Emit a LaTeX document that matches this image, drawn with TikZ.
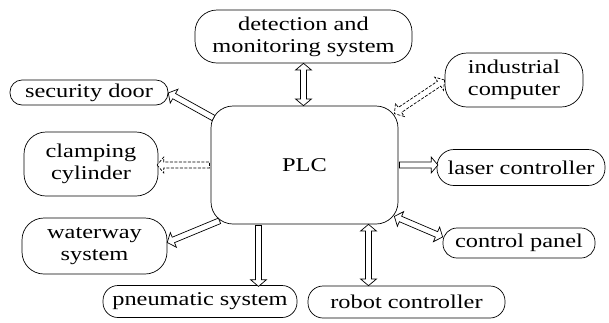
\documentclass[tikz,border=0pt]{standalone}
\usepackage{fontspec}
\setmainfont{Liberation Serif}[FakeStretch=1.25]
\usetikzlibrary{shapes.arrows,calc}
\newcommand\blkarrow[3][]{%
  \path let \p1=(#2), \p2=(#3),
    \n1={veclen(\x2-\x1,\y2-\y1)}, \n2={atan2(\y2-\y1,\x2-\x1)} in
    node[blkbase, #1, minimum height=\n1, rotate=\n2] at ($(#2)!0.5!(#3)$) {};}
\begin{document}
\begin{tikzpicture}[x=1pt,y=-1pt,
  box/.style={draw, line width=0.7pt, rounded corners=#1, align=center,
    inner sep=0pt, font=\fontsize{19.5}{22}\selectfont},
  box/.default=12pt,
  blkbase/.style={draw, line width=0.7pt, fill=white, inner sep=2.6pt, outer sep=0pt},
  one/.style={single arrow, single arrow head extend=5pt, single arrow tip angle=100,
    single arrow head indent=0pt},
  two/.style={double arrow, double arrow head extend=5pt, double arrow tip angle=100,
    double arrow head indent=0pt},
  dsh/.style={dash pattern=on 3pt off 1.5pt}
]
\useasboundingbox (0,0) rectangle (609,322);
\node[box=22pt, minimum width=187pt, minimum height=118pt] (plc) at (304.5,165) {PLC};
\node[box=22pt, minimum width=217pt, minimum height=53pt] (det) at (303.5,36.5) {detection and\\monitoring system};
\node[box=12pt, minimum width=158pt, minimum height=25pt] (sec) at (89,92.5) {security door};
\node[box=22pt, minimum width=134pt, minimum height=64pt] (clamp) at (91,164) {clamping\\cylinder};
\node[box=22pt, minimum width=145pt, minimum height=56pt] (water) at (94.5,246) {waterway\\system};
\node[box=15pt, minimum width=194pt, minimum height=32pt] (pneu) at (200,301.5) {pneumatic system};
\node[box=15pt, minimum width=197pt, minimum height=32pt] (robot) at (406.5,302) {robot controller};
\node[box=14pt, minimum width=152pt, minimum height=30pt] (panel) at (519,243) {control panel};
\node[box=17pt, minimum width=168pt, minimum height=36pt] (laser) at (521,167.5) {laser controller};
\node[box=22pt, minimum width=138pt, minimum height=54pt] (indus) at (514,80) {industrial\\computer};

\coordinate (dA) at (det.south);
\coordinate (dB) at (det.south |- plc.north);
\coordinate (sA) at ($(plc.north west)+(4,13)$);
\coordinate (sB) at ($(sec.east)+(1,1)$);
\coordinate (cA) at (plc.west);
\coordinate (cB) at (plc.west -| clamp.east);
\coordinate (wA) at ($(plc.south west)+(10,-4)$);
\coordinate (wB) at ($(water.east)+(1,-4)$);
\coordinate (pA) at ($(plc.south)+(-46,0)$);
\coordinate (pB) at (pA |- pneu.north);
\coordinate (rA) at ($(plc.south)+(64,0)$);
\coordinate (rB) at (rA |- robot.north);
\coordinate (kA) at ($(plc.south east)+(-4,-8)$);
\coordinate (kB) at ($(panel.west)+(0,-6)$);
\coordinate (lA) at (plc.east);
\coordinate (lB) at (plc.east -| laser.west);
\coordinate (iA) at ($(plc.north east)+(-4,8)$);
\coordinate (iB) at (indus.west);

\blkarrow[two]{dA}{dB}
\blkarrow[one]{sA}{sB}
\blkarrow[one,dsh]{cA}{cB}
\blkarrow[one]{wA}{wB}
\blkarrow[one]{pA}{pB}
\blkarrow[two]{rA}{rB}
\blkarrow[two]{kA}{kB}
\blkarrow[one]{lA}{lB}
\blkarrow[two,dsh]{iA}{iB}
\end{tikzpicture}
\end{document}
